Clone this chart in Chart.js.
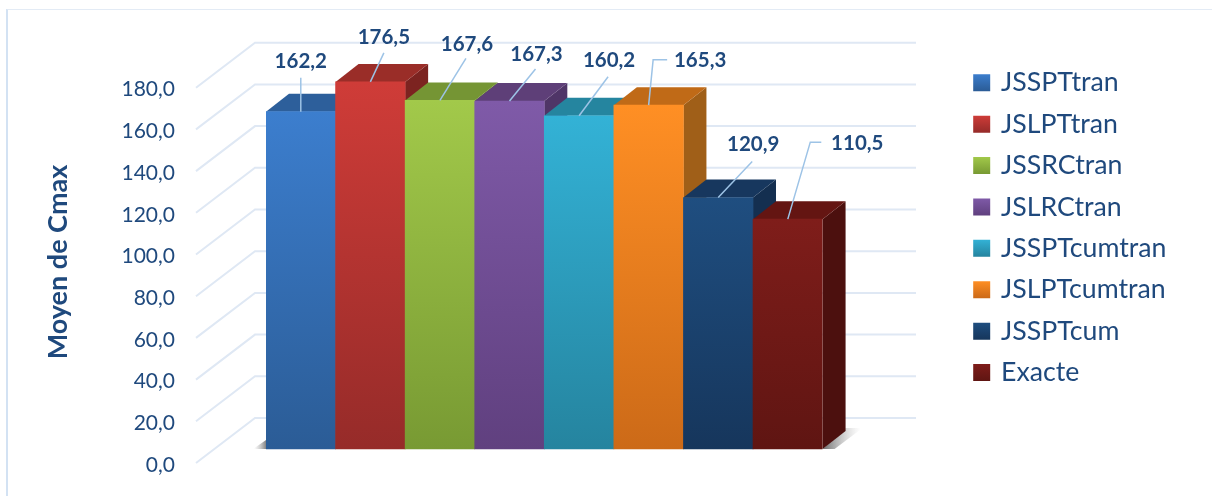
<!DOCTYPE html>
<html>
<head>
<meta charset="utf-8">
<title>Moyen de Cmax</title>
<script src="https://cdn.jsdelivr.net/npm/chart.js@4"></script>
<style>
  html, body { margin: 0; background: #fff; }
  #wrap { position: relative; width: 1212px; height: 496px; overflow: hidden; }
  #frame { position: absolute; left: 6px; top: 9px; width: 1300px; height: 600px;
           border-left: 2px solid #d3e2f3; border-top: 1px solid #e3ebf5; }
  canvas { position: absolute; left: 0; top: 0; }
</style>
</head>
<body>
<div id="wrap">
  <div id="frame"></div>
  <canvas id="chart" width="1212" height="496"></canvas>
</div>
<script>
const categories = ["JSSPTtran", "JSLPTtran", "JSSRCtran", "JSLRCtran", "JSSPTcumtran", "JSLPTcumtran", "JSSPTcum", "Exacte"];
const values = [162.2, 176.5, 167.6, 167.3, 160.2, 165.3, 120.9, 110.5];
const valueLabels = ["162,2", "176,5", "167,6", "167,3", "160,2", "165,3", "120,9", "110,5"];
const yTicks = [0, 20, 40, 60, 80, 100, 120, 140, 160, 180];
const yTickLabels = ["0,0", "20,0", "40,0", "60,0", "80,0", "100,0", "120,0", "140,0", "160,0", "180,0"];
const yTitle = "Moyen de Cmax";

const frontTop = ["#3c7ece", "#cf3c38", "#a2c94a", "#7f5aa8", "#33b2d6", "#ff8f24", "#1f4e80", "#7f1d1a"];
const frontBottom = ["#2b5c96", "#962b29", "#789a33", "#60407f", "#25849f", "#cc6a18", "#16365c", "#5f1512"];
const topFace = ["#2d5f9b", "#9a2d28", "#759534", "#5e3f78", "#25859f", "#c06a17", "#17375e", "#641512"];
const sideFace = ["#24507f", "#7c2320", "#617d2a", "#4f3567", "#1f6e85", "#a05f18", "#142f50", "#4c100e"];

// label centre and leader bends, relative to the middle of the bar's top edge
const labelOffset = [[0, -50], [13.5, -45], [27, -56], [27, -47], [30, -55], [51.5, -45], [35, -53], [69.5, -76]];
const leaderPath = [
  [[0, -34]],
  [[13.5, -29]],
  [[26, -42]],
  [[26, -32]],
  [[29, -39]],
  [[4.5, -45.5], [18.5, -45.5]],
  [[34, -36]],
  [[22.5, -77], [33.5, -77]]
];

const TEXT = "#1f497d";
const GRID = "#dfe8f4";
const LEADER = "#9dc3e6";
const DEPTH_X = 23, DEPTH_Y = 18;      // visible depth of one bar
const WALL_X = 59, WALL_Y = 45;        // floor depth from axis labels to back wall
const GRID_END = 916;
const LEGEND_LEFT = 961, LEGEND_TOP = 54.7, LEGEND_PAD = 14.7, LEGEND_STEP = 41.4;
const SWATCH_TOP = 74, SWATCH = 17;

function frontGradient(ctx, i) {
  const chart = ctx.chart;
  if (!chart.chartArea) return frontTop[i];
  const y = chart.scales.yBars;
  const g = chart.ctx.createLinearGradient(0, y.getPixelForValue(values[i]), 0, y.getPixelForValue(0));
  g.addColorStop(0, frontTop[i]);
  g.addColorStop(1, frontBottom[i]);
  return g;
}

function poly(c, pts, fill) {
  c.beginPath();
  pts.forEach((p, i) => i ? c.lineTo(p[0], p[1]) : c.moveTo(p[0], p[1]));
  c.closePath();
  c.fillStyle = fill;
  c.fill();
}

const scene3d = {
  id: "scene3d",
  afterLayout(chart) {
    // legend sits well right of the plot, with the gridlines running between
    const l = chart.legend;
    const w = l.right - l.left;
    l.left = LEGEND_LEFT;
    l.right = l.left + w;
    l.top = LEGEND_TOP;
    l.bottom = l.top + 400;
  },
  beforeDatasetsDraw(chart) {
    const c = chart.ctx;
    const yAxis = chart.scales.y;
    const yBars = chart.scales.yBars;
    const meta = chart.getDatasetMeta(0).data;
    const left = yAxis.right - 70;

    c.save();
    // gridlines: slanted floor edge, then along the back wall
    c.strokeStyle = GRID;
    c.lineWidth = 2;
    yTicks.forEach(v => {
      const py = yAxis.getPixelForValue(v);
      c.beginPath();
      c.moveTo(left, py);
      c.lineTo(left + WALL_X, py - WALL_Y);
      c.lineTo(GRID_END, py - WALL_Y);
      c.stroke();
    });

    // floor shadow
    const base = yBars.getPixelForValue(0);
    const lastRight = meta[meta.length - 1].x + meta[meta.length - 1].width / 2;
    const firstLeft = meta[0].x - meta[0].width / 2;
    let g = c.createLinearGradient(firstLeft, 0, firstLeft - 12, 0);
    g.addColorStop(0, "rgba(90,90,90,.75)");
    g.addColorStop(1, "rgba(160,160,160,0)");
    poly(c, [[firstLeft, base], [firstLeft - 13, base], [firstLeft, base - 9]], g);
    g = c.createLinearGradient(lastRight, 0, lastRight + 38, 0);
    g.addColorStop(0, "rgba(70,70,70,.8)");
    g.addColorStop(1, "rgba(170,170,170,0)");
    poly(c, [[lastRight, base], [lastRight + DEPTH_X, base - DEPTH_Y - 3], [lastRight + 40, base - DEPTH_Y - 3], [lastRight + 12, base]], g);

    // side and top faces, left to right so later bars cover earlier sides
    meta.forEach((bar, i) => {
      const x0 = bar.x - bar.width / 2;
      const x1 = bar.x + bar.width / 2;
      const t = bar.y;
      poly(c, [[x1, t], [x1 + DEPTH_X, t - DEPTH_Y], [x1 + DEPTH_X, base - DEPTH_Y], [x1, base]], sideFace[i]);
      poly(c, [[x0, t], [x0 + DEPTH_X, t - DEPTH_Y], [x1 + DEPTH_X, t - DEPTH_Y], [x1, t]], topFace[i]);
    });
    c.restore();
  },
  afterDatasetsDraw(chart) {
    const c = chart.ctx;
    const meta = chart.getDatasetMeta(0).data;
    c.save();
    c.textAlign = "center";
    c.textBaseline = "middle";
    c.font = "bold 20.5px Lato";
    meta.forEach((bar, i) => {
      c.strokeStyle = LEADER;
      c.lineWidth = 1.5;
      c.beginPath();
      c.moveTo(bar.x, bar.y);
      leaderPath[i].forEach(p => c.lineTo(bar.x + p[0], bar.y + p[1]));
      c.stroke();
      c.fillStyle = TEXT;
      c.fillText(valueLabels[i], bar.x + labelOffset[i][0], bar.y + labelOffset[i][1]);
    });

    // axis title sits a little below the middle of the axis, so it is placed here
    c.translate(58, 262);
    c.rotate(-Math.PI / 2);
    c.font = "bold 27px Lato";
    c.fillText(yTitle, 0, 0);
    c.restore();
  }
};

new Chart(document.getElementById("chart"), {
  type: "bar",
  data: {
    labels: categories,
    datasets: [{
      label: yTitle,
      data: values,
      yAxisID: "yBars",
      categoryPercentage: 1,
      barPercentage: 1,
      backgroundColor: ctx => frontGradient(ctx, ctx.dataIndex)
    }]
  },
  plugins: [scene3d],
  options: {
    responsive: false,
    animation: false,
    layout: { padding: { left: 40, top: 46, bottom: 33, right: 174 } },
    plugins: {
      tooltip: { enabled: false },
      legend: {
        position: "right",
        align: "start",
        labels: {
          font: { family: "Lato", size: 26.7 },
          color: TEXT,
          // 12px box plus a 5px stroke gives a 17px swatch with the text closer to it
          boxWidth: 12,
          boxHeight: 12,
          padding: LEGEND_PAD,
          generateLabels: chart => categories.map((name, i) => {
            const top = SWATCH_TOP + i * LEGEND_STEP;
            const g = chart.ctx.createLinearGradient(0, top, 0, top + SWATCH);
            g.addColorStop(0, frontTop[i]);
            g.addColorStop(1, frontBottom[i]);
            return { text: name, fillStyle: g, strokeStyle: g, lineWidth: 5, fontColor: TEXT, index: i };
          })
        }
      }
    },
    scales: {
      x: { display: false },
      y: {
        position: "left",
        min: 0,
        max: 200,
        grid: { display: false, drawTicks: false },
        border: { display: false },
        afterBuildTicks: scale => { scale.ticks = yTicks.map(v => ({ value: v })); },
        afterFit: scale => {
          scale.width = 226;
          scale.paddingTop = 0;
          scale.paddingBottom = 0;
        },
        ticks: {
          autoSkip: false,
          padding: 91,
          labelOffset: 2,
          color: TEXT,
          font: { family: "Lato", size: 21 },
          callback: value => yTickLabels[yTicks.indexOf(value)]
        }
      },
      yBars: {
        display: false,
        min: -6.74,
        max: 193.76
      }
    }
  }
});
</script>
</body>
</html>
